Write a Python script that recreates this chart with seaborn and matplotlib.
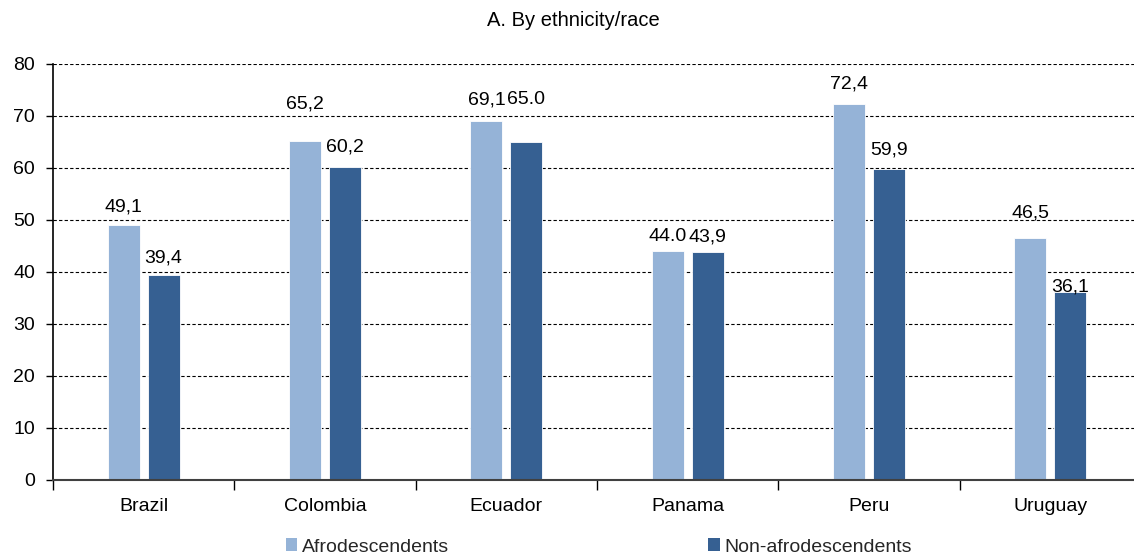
import matplotlib
matplotlib.use("Agg")
import matplotlib.pyplot as plt
from matplotlib.patches import Patch
from matplotlib.ticker import FixedLocator, NullFormatter
import seaborn as sns
import pandas as pd

# Share by country and ethnicity/race
countries = ["Brazil", "Colombia", "Ecuador", "Panama", "Peru", "Uruguay"]
groups = ["Afrodescendents", "Non-afrodescendents"]
afro_values = [49.1, 65.2, 69.1, 44.0, 72.4, 46.5]
non_afro_values = [39.4, 60.2, 65.0, 43.9, 59.9, 36.1]
# Value labels as printed (mixed decimal separators in the source)
afro_labels = ["49,1", "65,2", "69,1", "44.0", "72,4", "46,5"]
non_afro_labels = ["39,4", "60,2", "65.0", "43,9", "59,9", "36,1"]
y_ticks = [0, 10, 20, 30, 40, 50, 60, 70, 80]

# Vertical lift of each value label above its bar, in pixels (baseline)
afro_lift = [13, 32, 16, 10, 15.5, 21]
non_afro_lift = [13, 15, 38, 10, 14, 1]

colors = ["#95B3D7", "#366092"]

sns.set_theme(style="white")
plt.rcParams["font.family"] = ["Liberation Sans", "DejaVu Sans"]

df = pd.DataFrame({
    "country": countries * 2,
    "group": [groups[0]] * len(countries) + [groups[1]] * len(countries),
    "value": afro_values + non_afro_values,
})

fig = plt.figure(figsize=(11.34, 5.57), dpi=100)
ax = fig.add_axes([53 / 1134, 77 / 557, 1088 / 1134, 416 / 557])

sns.barplot(data=df, x="country", y="value", hue="group", order=countries,
            hue_order=groups, palette=colors, width=0.44, gap=0.2,
            edgecolor="white", linewidth=0.6, saturation=1, ax=ax,
            legend=False, zorder=3)

ax.set_xlim(-0.5, len(countries) - 0.5)
ax.set_ylim(0, 80)
ax.set_yticks(y_ticks)
ax.set_yticklabels([str(t) for t in y_ticks], fontsize=14, color="black")
ax.set_xlabel("")
ax.set_ylabel("")

# Category labels in the middle, tick marks on category boundaries
ax.xaxis.set_major_locator(FixedLocator([i - 0.5 for i in range(len(countries) + 1)]))
ax.xaxis.set_major_formatter(NullFormatter())
ax.xaxis.set_minor_locator(FixedLocator(list(range(len(countries)))))
ax.set_xticklabels(countries, minor=True, fontsize=14, color="black")
ax.tick_params(axis="x", which="major", length=7, width=1, color="black",
               direction="out", bottom=True)
ax.tick_params(axis="x", which="minor", length=0, pad=13)
ax.tick_params(axis="y", length=5, width=1, color="black", direction="out",
               left=True, pad=8)

ax.yaxis.grid(True, linestyle=(0, (3, 2)), color="black", linewidth=0.8)
ax.set_axisbelow(True)
for side in ("top", "right"):
    ax.spines[side].set_visible(False)
ax.spines["left"].set_color("black")
ax.spines["left"].set_linewidth(1.2)
ax.spines["bottom"].set_color("#404040")
ax.spines["bottom"].set_linewidth(1.5)
ax.spines["bottom"].set_zorder(5)

# Value labels above bars
for container, labels, lifts in zip(ax.containers,
                                    [afro_labels, non_afro_labels],
                                    [afro_lift, non_afro_lift]):
    for bar, text, lift in zip(container.patches, labels, lifts):
        x = bar.get_x() + bar.get_width() / 2
        ax.annotate(text, (x, bar.get_height()), xytext=(0, lift),
                    textcoords="offset pixels", ha="center", va="baseline",
                    fontsize=14, color="black")

fig.text(0.5055, 1 - 20 / 557, "A. By ethnicity/race", ha="center",
         va="center", fontsize=14.5, color="black")

handles = [Patch(facecolor=c, edgecolor="none") for c in colors]
fig.legend(handles, groups, loc="center", bbox_to_anchor=(0.528, 10 / 557),
           ncol=2, frameon=False, fontsize=14, handlelength=0.6,
           handleheight=0.6, handletextpad=0.25, columnspacing=13.3,
           borderaxespad=0, borderpad=0)

fig.savefig("out.png", dpi=100)
